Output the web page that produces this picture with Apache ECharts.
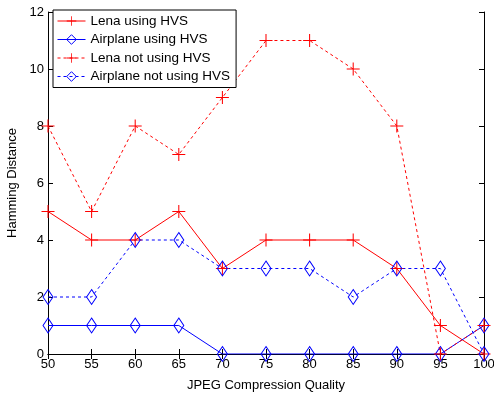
<!DOCTYPE html>
<html>
<head>
<meta charset="utf-8">
<script src="https://cdn.jsdelivr.net/npm/echarts@6/dist/echarts.min.js"></script>
<style>
  html, body { margin: 0; padding: 0; background: #fff; }
  #chart { width: 494px; height: 396px; }
</style>
</head>
<body>
<div id="chart"></div>
<script>
  const quality = [50, 55, 60, 65, 70, 75, 80, 85, 90, 95, 100];
  const lenaHVS = [5, 4, 4, 5, 3, 4, 4, 4, 3, 1, 0];
  const airplaneHVS = [1, 1, 1, 1, 0, 0, 0, 0, 0, 0, 1];
  const lenaNoHVS = [8, 5, 8, 7, 9, 11, 11, 10, 8, 0, 1];
  const airplaneNoHVS = [2, 2, 4, 4, 3, 3, 3, 2, 3, 3, 0];

  const font = "Liberation Sans";
  const plus = "path://M-1,-0.08L1,-0.08L1,0.08L-1,0.08Z M-0.08,-1L0.08,-1L0.08,1L-0.08,1Z";

  const pairs = (ys) => quality.map((x, i) => [x, ys[i]]);

  const mk = (name, data, color, dashed, isDiamond) => ({
    name: name,
    type: "line",
    data: pairs(data),
    symbol: isDiamond ? "diamond" : plus,
    symbolSize: isDiamond ? [10, 15] : 13,
    itemStyle: {
      color: isDiamond ? "rgba(255,255,255,0)" : color,
      borderColor: color,
      borderWidth: isDiamond ? 1 : 0,
    },
    lineStyle: { color: color, width: 1, type: dashed ? [3, 3] : "solid" },
    emphasis: { disabled: true },
    animation: false,
    z: 3,
  });

  // legend entry: thin line, marker as in the plot
  const legendItem = (name, color, dashed, isDiamond) => ({
    name: name,
    itemStyle: isDiamond
      ? { borderWidth: 1, borderColor: color, color: "rgba(255,255,255,0)" }
      : { borderWidth: 0, color: color },
    lineStyle: { color: color, width: 1, type: dashed ? [3, 3] : "solid" },
  });

  const tickStyle = { inside: true, length: 5, lineStyle: { color: "#000" } };
  const labelStyle = { fontFamily: font, fontSize: 13, color: "#000", margin: 4 };

  const chart = echarts.init(document.getElementById("chart"));
  chart.setOption({
    backgroundColor: "#fff",
    animation: false,
    grid: { left: 48, right: 10, top: 12, bottom: 42, outerBoundsMode: "none", containLabel: false },
    legend: {
      left: 53,
      top: 10,
      orient: "vertical",
      itemWidth: 28,
      itemHeight: 12,
      itemGap: 4.5,
      padding: [4, 6, 4, 4],
      borderColor: "#000",
      borderWidth: 1,
      backgroundColor: "#fff",
      textStyle: { fontFamily: font, fontSize: 13.5, color: "#000" },
      data: [
        legendItem("Lena using HVS", "#ff0000", false, false),
        legendItem("Airplane using HVS", "#0000ff", false, true),
        legendItem("Lena not using HVS", "#ff0000", true, false),
        legendItem("Airplane not using HVS", "#0000ff", true, true),
      ],
    },
    xAxis: [
      {
        type: "value",
        min: 50,
        max: 100,
        interval: 5,
        name: "JPEG Compression Quality",
        nameLocation: "middle",
        nameGap: 25,
        nameTextStyle: { fontFamily: font, fontSize: 13, color: "#000" },
        axisLine: { lineStyle: { color: "#000" } },
        axisTick: tickStyle,
        axisLabel: labelStyle,
        splitLine: { show: false },
      },
      {
        type: "value",
        position: "top",
        min: 50,
        max: 100,
        interval: 5,
        axisLine: { lineStyle: { color: "#000" } },
        axisTick: tickStyle,
        axisLabel: { show: false },
        splitLine: { show: false },
      },
    ],
    yAxis: [
      {
        type: "value",
        min: 0,
        max: 12,
        interval: 2,
        name: "Hamming Distance",
        nameLocation: "middle",
        nameGap: 29,
        nameTextStyle: { fontFamily: font, fontSize: 13, color: "#000" },
        axisLine: { lineStyle: { color: "#000" } },
        axisTick: tickStyle,
        axisLabel: labelStyle,
        splitLine: { show: false },
      },
      {
        type: "value",
        position: "right",
        min: 0,
        max: 12,
        interval: 2,
        axisLine: { lineStyle: { color: "#000" } },
        axisTick: tickStyle,
        axisLabel: { show: false },
        splitLine: { show: false },
      },
    ],
    series: [
      mk("Lena using HVS", lenaHVS, "#ff0000", false, false),
      mk("Airplane using HVS", airplaneHVS, "#0000ff", false, true),
      mk("Lena not using HVS", lenaNoHVS, "#ff0000", true, false),
      mk("Airplane not using HVS", airplaneNoHVS, "#0000ff", true, true),
    ],
  });
</script>
</body>
</html>
